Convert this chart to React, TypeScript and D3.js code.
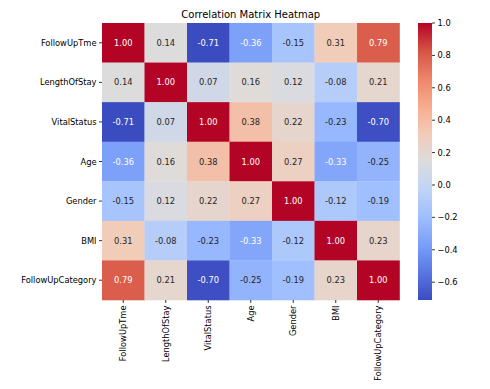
import * as d3 from 'd3';
import React, { useEffect, useRef } from 'react';

const labels = ['FollowUpTme', 'LengthOfStay', 'VitalStatus', 'Age', 'Gender', 'BMI', 'FollowUpCategory'];

const rowFollowUpTme = [1.00, 0.14, -0.71, -0.36, -0.15, 0.31, 0.79];
const rowLengthOfStay = [0.14, 1.00, 0.07, 0.16, 0.12, -0.08, 0.21];
const rowVitalStatus = [-0.71, 0.07, 1.00, 0.38, 0.22, -0.23, -0.70];
const rowAge = [-0.36, 0.16, 0.38, 1.00, 0.27, -0.33, -0.25];
const rowGender = [-0.15, 0.12, 0.22, 0.27, 1.00, -0.12, -0.19];
const rowBMI = [0.31, -0.08, -0.23, -0.33, -0.12, 1.00, 0.23];
const rowFollowUpCategory = [0.79, 0.21, -0.70, -0.25, -0.19, 0.23, 1.00];

const matrix = [rowFollowUpTme, rowLengthOfStay, rowVitalStatus, rowAge, rowGender, rowBMI, rowFollowUpCategory];

const colorbarTicks = [1.0, 0.8, 0.6, 0.4, 0.2, 0.0, -0.2, -0.4, -0.6];

// coolwarm samples
const coolwarm = ['#3b4cc0', '#5977e3', '#7b9ff9', '#9ebeff', '#c0d4f5', '#dddcdc',
    '#f2cbb7', '#f7ac8e', '#ee8468', '#d65244', '#b40426'];

const font = 'DejaVu Sans, sans-serif';

const App = () => {
    const ref = useRef(null);

    useEffect(() => {
        const svg = d3.select(ref.current);
        svg.selectAll('*').remove();

        const vmin = d3.min(matrix.flat()) as number;
        const vmax = d3.max(matrix.flat()) as number;

        const left = 102, right = 399.5, top = 23, bottom = 300;

        const x = d3.scaleBand().domain(labels).range([left, right]);
        const y = d3.scaleBand().domain(labels).range([top, bottom]);

        const stops = coolwarm.map((c, i) => vmin + (vmax - vmin) * i / (coolwarm.length - 1));
        const color = d3.scaleLinear<string>().domain(stops).range(coolwarm).interpolate(d3.interpolateRgb).clamp(true);

        const luminance = (c: string) => {
            const rgb = d3.rgb(c);
            const ch = [rgb.r, rgb.g, rgb.b].map(v => {
                v = v / 255;
                return v <= 0.03928 ? v / 12.92 : Math.pow((v + 0.055) / 1.055, 2.4);
            });
            return 0.2126 * ch[0] + 0.7152 * ch[1] + 0.0722 * ch[2];
        };

        // title
        svg.append('text')
            .attr('x', (left + right) / 2).attr('y', 18)
            .attr('text-anchor', 'middle')
            .style('font-family', font).style('font-size', '10px')
            .text('Correlation Matrix Heatmap');

        const cells = [];
        matrix.forEach((row, i) => row.forEach((v, j) => cells.push({ r: labels[i], c: labels[j], v })));

        const g = svg.append('g');
        g.selectAll('rect')
            .data(cells)
            .enter()
            .append('rect')
            .attr('x', d => x(d.c))
            .attr('y', d => y(d.r))
            .attr('width', x.bandwidth() + 0.3)
            .attr('height', y.bandwidth() + 0.3)
            .attr('fill', d => color(d.v));

        g.selectAll('text.annot')
            .data(cells)
            .enter()
            .append('text')
            .attr('class', 'annot')
            .attr('x', d => x(d.c) + x.bandwidth() / 2)
            .attr('y', d => y(d.r) + y.bandwidth() / 2)
            .attr('text-anchor', 'middle')
            .attr('dominant-baseline', 'central')
            .attr('fill', d => luminance(color(d.v)) < 0.408 ? '#ffffff' : '#262626')
            .style('font-family', font).style('font-size', '8.3px')
            .text(d => d.v.toFixed(2));

        // y axis
        const yAxis = svg.append('g');
        labels.forEach(l => {
            const cy = y(l) + y.bandwidth() / 2;
            yAxis.append('line').attr('x1', left - 3).attr('x2', left).attr('y1', cy).attr('y2', cy)
                .attr('stroke', '#000').attr('stroke-width', 0.8);
            yAxis.append('text').attr('x', left - 5.5).attr('y', cy)
                .attr('text-anchor', 'end').attr('dominant-baseline', 'central')
                .style('font-family', font).style('font-size', '8.3px')
                .text(l);
        });

        // x axis
        const xAxis = svg.append('g');
        labels.forEach(l => {
            const cx = x(l) + x.bandwidth() / 2;
            xAxis.append('line').attr('x1', cx).attr('x2', cx).attr('y1', bottom).attr('y2', bottom + 3)
                .attr('stroke', '#000').attr('stroke-width', 0.8);
            xAxis.append('text')
                .attr('transform', `translate(${cx},${bottom + 5.5}) rotate(-90)`)
                .attr('text-anchor', 'end').attr('dominant-baseline', 'central')
                .style('font-family', font).style('font-size', '8.3px')
                .text(l);
        });

        // colorbar
        const cbLeft = 418, cbWidth = 14;
        const cy = d3.scaleLinear().domain([vmin, vmax]).range([bottom, top]);
        const defs = svg.append('defs');
        const grad = defs.append('linearGradient').attr('id', 'cbgrad')
            .attr('x1', 0).attr('y1', 1).attr('x2', 0).attr('y2', 0);
        coolwarm.forEach((c, i) => {
            grad.append('stop').attr('offset', i / (coolwarm.length - 1)).attr('stop-color', c);
        });
        svg.append('rect').attr('x', cbLeft).attr('y', top).attr('width', cbWidth).attr('height', bottom - top)
            .attr('fill', 'url(#cbgrad)');

        const cbAxis = svg.append('g');
        colorbarTicks.forEach(t => {
            const ty = cy(t);
            cbAxis.append('line').attr('x1', cbLeft + cbWidth).attr('x2', cbLeft + cbWidth + 3)
                .attr('y1', ty).attr('y2', ty).attr('stroke', '#000').attr('stroke-width', 0.8);
            cbAxis.append('text').attr('x', cbLeft + cbWidth + 5.5).attr('y', ty)
                .attr('dominant-baseline', 'central')
                .style('font-family', font).style('font-size', '8.3px')
                .text(d3.format('.1f')(t).replace('-', '\u2212'));
        });
    }, []);

    return (
        <div>
            <svg ref={ref} width={490} height={389}
                style={{ position: 'absolute', left: 0, top: 0, background: '#fff' }}>
            </svg>
        </div>
    );
};

export default App;
